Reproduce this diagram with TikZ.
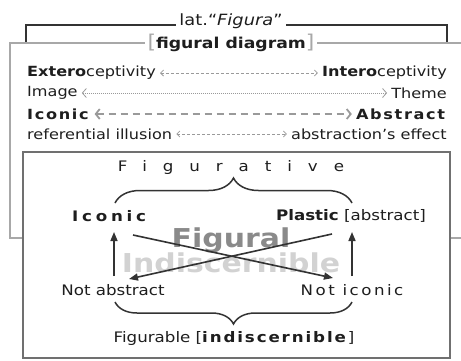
\documentclass[tikz,border=0pt]{standalone}
\usepackage{fontspec}
\setmainfont{DejaVu Sans}[FakeStretch=1.15]
\usetikzlibrary{arrows.meta,decorations.pathreplacing,calc}
\definecolor{frameblack}{HTML}{333333}
\definecolor{framegray}{HTML}{A8A8A8}
\definecolor{innergray}{HTML}{707070}
\definecolor{arrgray}{HTML}{9A9A9A}
\definecolor{figgray}{HTML}{8A8A8A}
\definecolor{indgray}{HTML}{D2D2D2}
\definecolor{txtcol}{HTML}{1E1E1E}
\newcommand\spc[2]{{\addfontfeatures{LetterSpace=#1}#2}}
\begin{document}
\begin{tikzpicture}[x=1pt,y=-1pt,
  rowtxt/.style={inner sep=0pt,font=\fontsize{14}{16}\selectfont,text=txtcol},
  intxt/.style={inner sep=0pt,font=\fontsize{14.5}{17}\selectfont,text=txtcol},
  grayarrow/.style={arrgray,line width=0.8pt,shorten <=4pt,shorten >=4pt,
     {Straight Barb[length=3pt,width=6pt]}-{Straight Barb[length=3pt,width=6pt]}},
  blackarrow/.style={frameblack,line width=1.6pt,-{Triangle[length=9pt,width=7pt]}},
  bracestyle/.style={frameblack,line width=1.5pt,decorate,decoration={brace,amplitude=#1}}
]
\useasboundingbox (0,0) rectangle (461,360);
% outer black bracket
\draw[frameblack,line width=2pt] (26,43) -- (26,25) -- (447,25) -- (447,43);
\node[fill=white,inner xsep=3pt,inner ysep=1pt,font=\fontsize{15.5}{18}\selectfont,text=txtcol] (lat) at (231,21) {lat.“\textit{Figura}”};
% gray box
\draw[framegray,line width=2.5pt] (462,43) -- (10,43) -- (10,238) -- (462,238);
\node[fill=white,inner xsep=3pt,inner ysep=0pt,font=\fontsize{15}{18}\selectfont,text=txtcol] (fd) at (231,43)
  {\textcolor{framegray}{\fontsize{19}{20}\selectfont[}\textbf{figural diagram}\textcolor{framegray}{\fontsize{19}{20}\selectfont]}};
% rows
\node[rowtxt,anchor=west] (ext) at (27,73) {\textbf{Extero}ceptivity};
\node[rowtxt,anchor=east] (int) at (447,73) {\textbf{Intero}ceptivity};
\draw[grayarrow,dash pattern=on 3pt off 2pt] (ext.east) -- (int.west);
\node[rowtxt,anchor=west] (img) at (27,93) {Image};
\node[rowtxt,anchor=east] (thm) at (447,93) {Theme};
\draw[grayarrow,dash pattern=on 1pt off 1pt,{Straight Barb[length=4pt,width=9pt]}-{Straight Barb[length=4pt,width=9pt]}] (img.east) -- (thm.west);
\node[rowtxt,anchor=west] (ico) at (27,114) {\textbf{\spc{12}{Iconic}}};
\node[rowtxt,anchor=east] (abs) at (447,114) {\textbf{\spc{12}{Abstract}}};
\draw[grayarrow,line width=1.8pt,dash pattern=on 7pt off 5pt,{Straight Barb[length=4pt,width=10pt]}-{Straight Barb[length=4pt,width=10pt]}] (ico.east) -- (abs.west);
\node[rowtxt,anchor=west] (ref) at (27,134) {referential illusion};
\node[rowtxt,anchor=east] (aef) at (447,134) {abstraction’s effect};
\draw[grayarrow,dash pattern=on 3pt off 2pt] (ref.east) -- (aef.west);
% inner box
\draw[innergray,line width=1.5pt,fill=white] (23,152) rectangle (450,358);
\node[intxt] (figv) at (231,167) {\spc{110}{Figurative}};
\coordinate (b1l) at (115,203);
\coordinate (b1r) at (352,203);
\draw[bracestyle=25pt] (b1l) -- (b1r);
\node[intxt] (icn) at (111,216) {\textbf{\spc{26}{Iconic}}};
\node[intxt] (pla) at (351,216) {\textbf{Plastic} [abstract]};
\node[font=\bfseries\fontsize{26}{28}\selectfont,text=indgray,inner sep=0pt] (ind) at (231,263) {Indiscernible};
\node[font=\bfseries\fontsize{26}{28}\selectfont,text=figgray,inner sep=0pt] (fig) at (231,240) {Figural};
\node[intxt] (nab) at (113,290) {Not abstract};
\node[intxt] (nic) at (352,290) {\spc{17}{Not iconic}};
\coordinate (la) at (114,276);
\coordinate (lb) at (114,232);
\coordinate (ra) at (352,276);
\coordinate (rb) at (352,232);
\draw[blackarrow] (la) -- (lb);
\draw[blackarrow] (ra) -- (rb);
\coordinate (c1a) at (133,235);
\coordinate (c1b) at (333,278);
\coordinate (c2a) at (332,234);
\coordinate (c2b) at (129,279);
\draw[blackarrow] (c1a) -- (c1b);
\draw[blackarrow] (c2a) -- (c2b);
\coordinate (b2r) at (352,302);
\coordinate (b2l) at (115,302);
\draw[bracestyle=22pt] (b2r) -- (b2l);
\node[intxt] (fgb) at (234,338) {Figurable [\textbf{\spc{13}{indiscernible}}]};
\end{tikzpicture}
\end{document}
